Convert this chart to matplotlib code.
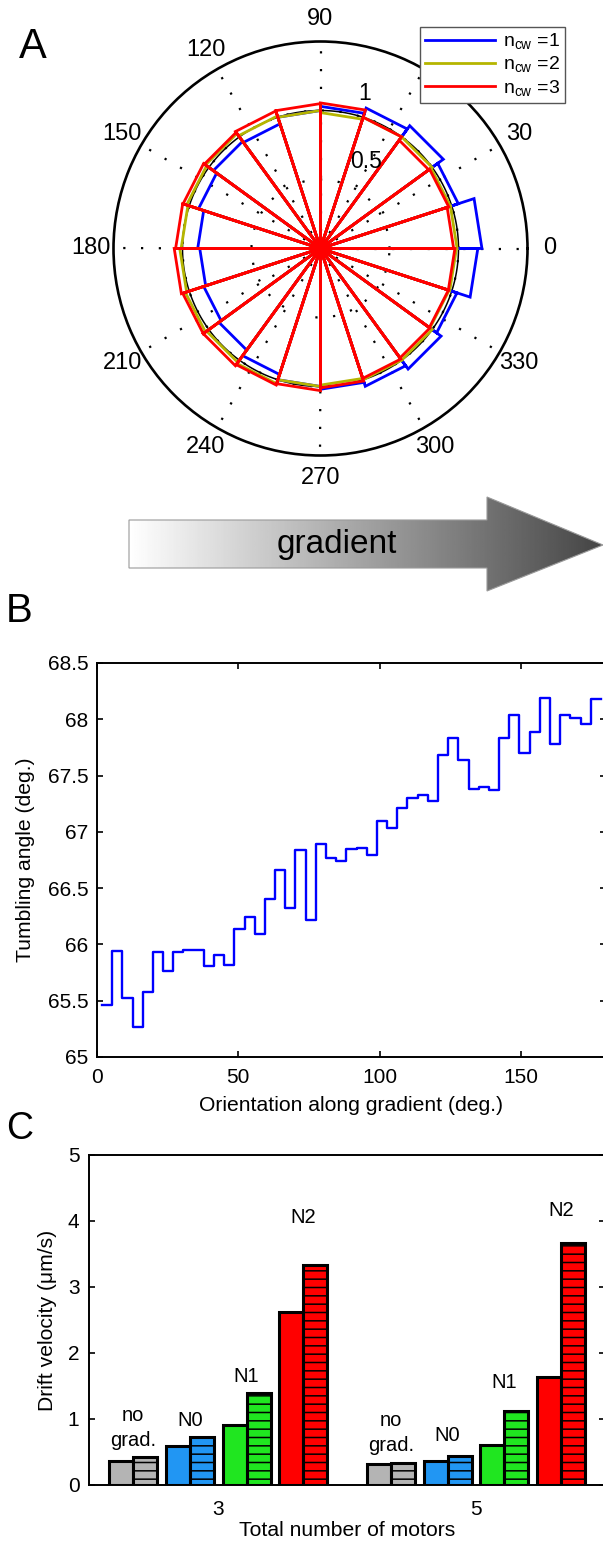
import numpy as np
import matplotlib.pyplot as plt
from matplotlib.patches import Polygon
from matplotlib.ticker import FormatStrFormatter

plt.rcParams['font.family'] = ['Liberation Sans', 'DejaVu Sans']
plt.rcParams['mathtext.fontset'] = 'custom'
plt.rcParams['mathtext.rm'] = 'Liberation Sans'
plt.rcParams['hatch.linewidth'] = 1.1

# ---- data ----
# panel A: rose histograms, 20 bins of 18 deg starting at 0 deg
bin_edges_deg = np.arange(0, 361, 18)
r_ncw1 = [1.17, 1.05, 1.10, 1.07, 1.03, 1.00, 0.95, 0.96, 0.93, 0.89,
          0.875, 0.89, 0.91, 0.96, 1.00, 1.02, 1.05, 1.08, 1.04, 1.14]
r_ncw2 = [0.99, 0.99, 1.00, 1.00, 0.985, 1.00, 1.01, 1.03, 1.02, 1.01,
          1.02, 1.03, 1.02, 1.03, 1.00, 0.99, 1.00, 1.00, 0.98, 0.985]
r_ncw3 = [0.965, 0.977, 0.97, 1.00, 1.055, 1.05, 1.048, 1.04, 1.047, 1.05,
          1.06, 1.05, 1.05, 1.04, 1.03, 1.01, 0.99, 0.98, 0.975, 0.974]
series_labels = [r'n$_{\mathrm{cw}}$ =1', r'n$_{\mathrm{cw}}$ =2', r'n$_{\mathrm{cw}}$ =3']
series_colors = ['#0000ff', '#b5b500', '#ff0000']

# panel B: tumbling angle vs orientation, 50 bins of 3.6 deg
orient_centers = np.arange(1.8, 180, 3.6)
tumble_angle = [65.46, 65.94, 65.52, 65.27, 65.58, 65.93, 65.76, 65.93, 65.95, 65.95,
                65.81, 65.91, 65.82, 66.14, 66.24, 66.09, 66.40, 66.66, 66.32, 66.84,
                66.22, 66.89, 66.77, 66.74, 66.85, 66.86, 66.79, 67.10, 67.03, 67.21,
                67.30, 67.33, 67.27, 67.68, 67.83, 67.64, 67.38, 67.40, 67.37, 67.83,
                68.04, 67.70, 67.89, 68.19, 67.78, 68.04, 68.01, 67.96, 68.18, 68.18]

# panel C: drift velocity
motor_totals = ['3', '5']
class_names = ['no\ngrad.', 'N0', 'N1', 'N2']
class_colors = ['#b4b4b4', '#2196f3', '#20e620', '#ff0000']
drift_plain = [[0.36, 0.59, 0.91, 2.62],
               [0.32, 0.36, 0.60, 1.63]]
drift_hatched = [[0.43, 0.73, 1.40, 3.34],
                 [0.34, 0.44, 1.12, 3.67]]

# ---- figure ----
W, H = 603, 1545
fig = plt.figure(figsize=(W / 100, H / 100), dpi=100)


def rect(x0, y0, x1, y1):
    # pixel box (origin top-left) -> figure fraction rect
    return [x0 / W, 1 - y1 / H, (x1 - x0) / W, (y1 - y0) / H]


def rose(edges, r):
    th, rr = [], []
    for a, b, v in zip(edges[:-1], edges[1:], r):
        th += [0, a, b, 0]
        rr += [0, v, v, 0]
    return np.deg2rad(th), rr


# ---- A ----
axp = fig.add_axes(rect(113.5, 41.5, 527.5, 455.5), projection='polar')
axp.set_ylim(0, 1.5)
axp.set_xticks(np.deg2rad(np.arange(0, 360, 30)))
axp.set_xticklabels([])
axp.set_yticks([0.5, 1.0])
axp.set_yticklabels([])
axp.tick_params(length=0)
axp.grid(True, color='k', linestyle=(0, (1, 7)), linewidth=1.6)
axp.spines['polar'].set_linewidth(1.9)

for r, c, lab in zip([r_ncw1, r_ncw2, r_ncw3], series_colors, series_labels):
    th, rr = rose(bin_edges_deg, r)
    axp.plot(th, rr, color=c, lw=2.0, label=lab, solid_joinstyle='miter')
circ = np.linspace(0, 2 * np.pi, 361)
axp.plot(circ, np.ones_like(circ), color='k', lw=1.1, zorder=1.5)

for a in range(0, 360, 30):
    axp.text(np.deg2rad(a), 1.66, str(a), ha='center', va='center', fontsize=17)
axp.text(np.deg2rad(62), 0.71, '0.5', ha='center', va='center', fontsize=16.5)
axp.text(np.deg2rad(74), 1.17, '1', ha='center', va='center', fontsize=16.5)

leg = axp.legend(loc='upper right', bbox_to_anchor=(565 / W, 1 - 27 / H),
                 bbox_transform=fig.transFigure, fontsize=14, frameon=True,
                 fancybox=False, edgecolor='#555555', framealpha=1,
                 handlelength=3.6, borderpad=0.25, labelspacing=0.15,
                 handletextpad=0.4, borderaxespad=0)
leg.get_frame().set_linewidth(1.0)
for ln in leg.get_lines():
    ln.set_linewidth(2.0)

# ---- gradient arrow ----
axg = fig.add_axes(rect(0, 490, W, 600))
axg.set_xlim(0, W)
axg.set_ylim(600, 490)
axg.axis('off')
arrow = Polygon([(129, 520), (487, 520), (487, 497), (603, 545), (487, 591),
                 (487, 568), (129, 568)], closed=True, facecolor='none',
                edgecolor='#9a9a9a', lw=0.8)
axg.add_patch(arrow)
ramp = np.linspace(1.0, 0.27, 256)[None, :]
img = axg.imshow(ramp, cmap='gray', vmin=0, vmax=1, aspect='auto',
                 extent=(129, 603, 591, 497), interpolation='bilinear')
img.set_clip_path(arrow)
axg.text(337, 544, 'gradient', ha='center', va='center', fontsize=24)

# ---- B ----
axb = fig.add_axes(rect(96.9, 663, 606, 1057))
axb.step(orient_centers, tumble_angle, where='post', color='#0000ff', lw=1.7)
axb.set_xlim(0, 180)
axb.set_ylim(65, 68.5)
axb.set_xticks([0, 50, 100, 150])
axb.set_yticks(np.arange(65, 68.51, 0.5))
axb.yaxis.set_major_formatter(FormatStrFormatter('%g'))
axb.tick_params(direction='in', top=True, right=True, length=4, width=1.2,
                labelsize=15)
axb.tick_params(axis='x', pad=8)
axb.tick_params(axis='y', pad=6)
for s in axb.spines.values():
    s.set_linewidth(1.4)
axb.set_xlabel('Orientation along gradient (deg.)', fontsize=15.2)
axb.set_ylabel('Tumbling angle (deg.)', fontsize=15.2)
axb.xaxis.set_label_coords(0.5, -0.1)
axb.yaxis.set_label_coords(-0.122, 0.5)

# ---- C ----
axc = fig.add_axes(rect(89.2, 1155, 605, 1485))
pair_offsets = [-0.33, -0.11, 0.11, 0.33]
bw = 0.093
label_y = [[0.86, 0.98, 1.65, 4.06],
           [0.79, 0.75, 1.55, 4.16]]
for g in range(len(motor_totals)):
    for k in range(len(class_names)):
        xc = g + 1 + pair_offsets[k]
        axc.bar(xc - bw / 2, drift_plain[g][k], width=bw, color=class_colors[k],
                edgecolor='k', lw=2.2)
        axc.bar(xc + bw / 2, drift_hatched[g][k], width=bw, color=class_colors[k],
                edgecolor='k', lw=2.2, hatch='--')
        axc.text(xc, label_y[g][k], class_names[k], ha='center', va='center',
                 fontsize=14.5, linespacing=1.4)
axc.set_xlim(0.5, 2.5)
axc.set_ylim(0, 5)
axc.set_xticks([1, 2])
axc.set_xticklabels(motor_totals)
axc.set_yticks(range(6))
axc.tick_params(direction='in', right=True, length=4, width=1.2, labelsize=15)
axc.tick_params(axis='x', length=0, pad=11)
axc.tick_params(axis='y', pad=7)
for s in axc.spines.values():
    s.set_linewidth(1.4)
axc.set_xlabel('Total number of motors', fontsize=15.2)
axc.set_ylabel('Drift velocity (μm/s)', fontsize=15.2)
axc.xaxis.set_label_coords(0.5, -0.11)
axc.yaxis.set_label_coords(-0.062, 0.5)

# ---- panel letters ----
fig.text(19 / W, 1 - 58 / H, 'A', fontsize=30, ha='left', va='baseline')
fig.text(6 / W, 1 - 622 / H, 'B', fontsize=29, ha='left', va='baseline')
fig.text(6 / W, 1 - 1139 / H, 'C', fontsize=27, ha='left', va='baseline')

fig.savefig('out.png', dpi=100)
